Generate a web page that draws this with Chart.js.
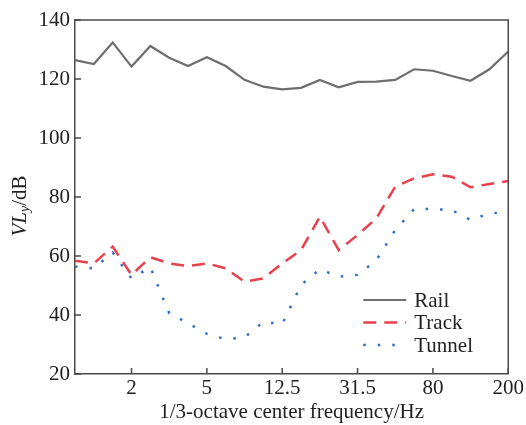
<!DOCTYPE html>
<html>
<head>
<meta charset="utf-8">
<script src="https://cdn.jsdelivr.net/npm/chart.js@4/dist/chart.umd.min.js"></script>
<style>
  html, body { margin: 0; padding: 0; background: #fff; }
  #wrap { width: 526px; height: 425px; position: relative; }
</style>
</head>
<body>
<div id="wrap"><canvas id="c" width="526" height="425"></canvas></div>
<script>
// 1/3-octave band centre frequencies (Hz)
const bands = ['1', '1.25', '1.6', '2', '2.5', '3.15', '4', '5', '6.3', '8', '10', '12.5',
               '16', '20', '25', '31.5', '40', '50', '63', '80', '100', '125', '160', '200'];
// bands that carry a tick label
const tickBands = ['2', '5', '12.5', '31.5', '80', '200'];
// vibration levels VL_y (dB)
const rail   = [126.4, 125.1, 132.4, 124.2, 131.2, 127.2, 124.4, 127.4, 124.4, 119.7, 117.4, 116.5,
                117.0, 119.7, 117.2, 119.0, 119.1, 119.7, 123.3, 122.8, 121.0, 119.4, 123.3, 129.3];
const track  = [58.4, 57.5, 63.2, 53.6, 59.6, 57.5, 56.6, 57.5, 55.8, 51.3, 52.4, 57.5,
                62.0, 73.3, 62.0, 67.1, 72.8, 83.5, 86.3, 87.7, 86.9, 83.3, 84.4, 85.4];
const tunnel = [56.4, 55.8, 61.2, 52.4, 56.2, 40.6, 37.2, 33.6, 31.8, 32.4, 37.7, 36.9,
                50.2, 55.5, 53.0, 53.6, 58.6, 68.8, 75.9, 75.9, 75.6, 72.2, 74.5, 74.8];
const yTicks = [20, 40, 60, 80, 100, 120, 140];

const SERIF = '"Liberation Serif", "Times New Roman", serif';
const FS = 21;
const AXIS = '#4a4a4a';
const TEXT = '#222';

// inward tick marks, closing frame, rotated y title and the legend
const decor = {
  id: 'decor',
  afterDraw(chart) {
    const ctx = chart.ctx;
    const a = chart.chartArea;
    const xs = chart.scales.x, ys = chart.scales.y;
    ctx.save();
    ctx.strokeStyle = AXIS;
    ctx.lineWidth = 1.5;
    // frame
    ctx.beginPath();
    ctx.moveTo(a.left, a.top);
    ctx.lineTo(a.right, a.top);
    ctx.lineTo(a.right, a.bottom);
    ctx.stroke();
    // ticks
    ctx.beginPath();
    yTicks.forEach(v => {
      const y = ys.getPixelForValue(v);
      ctx.moveTo(a.left, y);
      ctx.lineTo(a.left + 6, y);
    });
    tickBands.forEach(b => {
      const x = xs.getPixelForValue(bands.indexOf(b));
      ctx.moveTo(x, a.bottom);
      ctx.lineTo(x, a.bottom - 6);
    });
    ctx.stroke();

    // y title: VL_y/dB
    ctx.fillStyle = TEXT;
    ctx.translate(20, (a.top + a.bottom) / 2 + 9);
    ctx.rotate(-Math.PI / 2);
    ctx.textBaseline = 'middle';
    ctx.textAlign = 'left';
    const itF = 'italic ' + FS + 'px ' + SERIF, smF = 'italic 14px ' + SERIF, nF = FS + 'px ' + SERIF;
    ctx.font = itF; const w1 = ctx.measureText('VL').width;
    ctx.font = smF; const w2 = ctx.measureText('y').width;
    ctx.font = nF; const w3 = ctx.measureText('/dB').width;
    let x0 = -(w1 + w2 + w3) / 2;
    ctx.font = itF; ctx.fillText('VL', x0, 0); x0 += w1;
    ctx.font = smF; ctx.fillText('y', x0, 5); x0 += w2;
    ctx.font = nF; ctx.fillText('/dB', x0, 0);
    ctx.restore();

    // legend
    ctx.save();
    const lx0 = a.right - 145, lx1 = a.right - 102, tx = a.right - 94;
    chart.data.datasets.forEach((ds, i) => {
      const y = a.top + 280 + i * 22.5;
      ctx.strokeStyle = ds.borderColor;
      ctx.lineWidth = ds.borderWidth;
      ctx.setLineDash(ds.borderDash || []);
      ctx.beginPath();
      ctx.moveTo(lx0, y);
      ctx.lineTo(lx1, y);
      ctx.stroke();
      ctx.setLineDash([]);
      ctx.fillStyle = TEXT;
      ctx.font = FS + 'px ' + SERIF;
      ctx.textBaseline = 'middle';
      ctx.fillText(ds.label, tx, y + 1);
    });
    ctx.restore();
  }
};

new Chart(document.getElementById('c'), {
  type: 'line',
  data: {
    labels: bands,
    datasets: [
      { label: 'Rail', data: rail, borderColor: '#6e6e6e', borderWidth: 2.2 },
      { label: 'Track', data: track, borderColor: '#e8414c', borderWidth: 2.5, borderDash: [13, 8] },
      { label: 'Tunnel', data: tunnel, borderColor: '#2f6fc6', borderWidth: 2.5, borderDash: [2.5, 12] }
    ]
  },
  options: {
    responsive: false,
    animation: false,
    layout: { padding: { top: 20, right: 14, left: 0, bottom: 0 } },
    elements: { point: { radius: 0 }, line: { tension: 0, fill: false } },
    plugins: { legend: { display: false }, tooltip: { enabled: false } },
    scales: {
      x: {
        type: 'category',
        offset: false,
        grid: { display: false, drawTicks: false },
        border: { display: true, color: AXIS, width: 1.5 },
        ticks: {
          autoSkip: false, maxRotation: 0, padding: 2,
          color: TEXT, font: { family: SERIF, size: FS },
          callback: (v, i) => tickBands.includes(bands[i]) ? bands[i] : ''
        },
        title: {
          display: true, text: '1/3-octave center frequency/Hz',
          color: TEXT, font: { family: SERIF, size: FS }, padding: { top: 0, bottom: 0 }
        },
        afterFit: s => { s.height = 51; }
      },
      y: {
        min: 20, max: 140,
        grid: { display: false, drawTicks: false },
        border: { display: true, color: AXIS, width: 1.5 },
        ticks: {
          stepSize: 20, padding: 5,
          color: TEXT, font: { family: SERIF, size: FS }
        },
        afterFit: s => { s.width = 75; }
      }
    }
  },
  plugins: [decor]
});
</script>
</body>
</html>
